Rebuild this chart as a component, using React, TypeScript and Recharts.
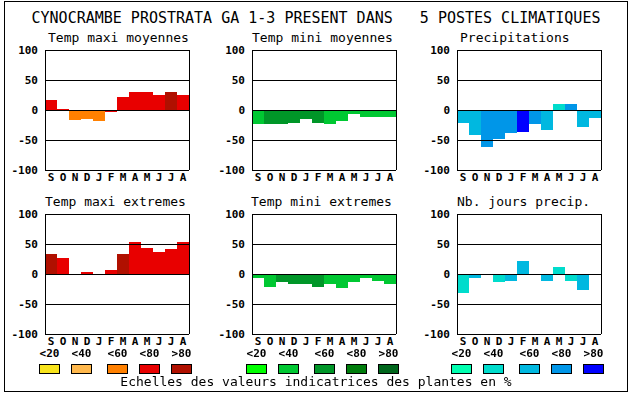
import { BarChart, Bar, Cell, XAxis, YAxis, ReferenceLine } from 'recharts';

const months = ['S', 'O', 'N', 'D', 'J', 'F', 'M', 'A', 'M', 'J', 'J', 'A'];
const yTicks = [-100, -50, 0, 50, 100];
const gridLines = [100, 50, 0, -50, -100];
const classLabels = ['<20', '<40', '<60', '<80', '>80'];

// palettes (index = class of indicator value)
const reds = ['#f8e41c', '#ffb84c', '#ff8000', '#e80000', '#b01000'];
const greens = ['#00ff00', '#00c832', '#009628', '#007d0c', '#00661c'];
const blues = ['#00ffb0', '#00dccc', '#00b8e0', '#0096e8', '#0000ff'];

const tmaxMoy = [17, 2, -17, -15, -18, -3, 22, 30, 30, 25, 30, 25];
const tmaxMoyCls = [3, 3, 2, 2, 2, 3, 3, 3, 3, 3, 4, 3];

const tminMoy = [-23, -23, -24, -21, -15, -21, -24, -18, -6, -11, -12, -12];
const tminMoyCls = [1, 2, 2, 2, 2, 2, 1, 1, 1, 1, 1, 1];

const precip = [-21, -41, -61, -48, -38, -36, -24, -34, 10, 10, -28, -13];
const precipCls = [2, 2, 3, 3, 3, 4, 3, 2, 1, 3, 2, 2];

const tmaxExt = [34, 26, 0, 4, 0, 7, 34, 54, 44, 37, 42, 54];
const tmaxExtCls = [4, 3, 3, 3, 3, 3, 4, 3, 3, 3, 3, 3];

const tminExt = [-7, -21, -14, -17, -16, -21, -16, -24, -14, -6, -12, -17];
const tminExtCls = [1, 1, 2, 2, 2, 2, 1, 1, 1, 1, 1, 1];

const nbJours = [-31, -6, 0, -14, -11, 21, -2, -11, 12, -12, -27, -2];
const nbJoursCls = [1, 2, 2, 1, 2, 2, 2, 2, 1, 1, 2, 2];

const mono = '"DejaVu Sans Mono", monospace';
const tickStyle = { fontFamily: mono, fontSize: 11, fontWeight: 'bold', fill: '#000' };

const colLeft = [45, 252, 457];
const rowTop = [50, 214];

const panels = [
  { title: 'Temp maxi moyennes', values: tmaxMoy, cls: tmaxMoyCls, palette: reds, col: 0, row: 0, dx: 3 },
  { title: 'Temp mini moyennes', values: tminMoy, cls: tminMoyCls, palette: greens, col: 1, row: 0, dx: 0 },
  { title: 'Precipitations', values: precip, cls: precipCls, palette: blues, col: 2, row: 0, dx: 3 },
  { title: 'Temp maxi extremes', values: tmaxExt, cls: tmaxExtCls, palette: reds, col: 0, row: 1, dx: 0 },
  { title: 'Temp mini extremes', values: tminExt, cls: tminExtCls, palette: greens, col: 1, row: 1, dx: -1 },
  { title: 'Nb. jours precip.', values: nbJours, cls: nbJoursCls, palette: blues, col: 2, row: 1, dx: 0 },
];

function Panel({ p }: { p: (typeof panels)[number] }) {
  const rows = months.map((m, i) => ({ m, v: p.values[i], c: p.cls[i] }));
  const left = colLeft[p.col];
  const top = rowTop[p.row];
  return (
    <>
      <div
        style={{
          position: 'absolute',
          left: left + p.dx,
          top: top - 19,
          fontFamily: mono,
          fontSize: 13,
          lineHeight: '13px',
          whiteSpace: 'pre',
        }}
      >
        {p.title}
      </div>
      <div style={{ position: 'absolute', left: left - 45, top: top - 5, shapeRendering: 'crispEdges' }}>
        <BarChart
          width={194}
          height={145}
          data={rows}
          margin={{ top: 5, right: 4, bottom: 0, left: 0 }}
          barCategoryGap={0}
        >
          <Bar dataKey="v" yAxisId="l" isAnimationActive={false}>
            {rows.map((r, i) => (
              <Cell key={i} fill={p.palette[r.c]} />
            ))}
          </Bar>
          {gridLines.map((g) => (
            <ReferenceLine key={g} yAxisId="l" y={g} stroke="#000" strokeWidth={1} />
          ))}
          <XAxis
            dataKey="m"
            interval={0}
            tickLine={false}
            tickSize={0}
            tickMargin={3}
            height={20}
            axisLine={{ stroke: '#000' }}
            tick={tickStyle}
          />
          <YAxis
            yAxisId="l"
            domain={[-100, 100]}
            ticks={yTicks}
            interval={0}
            tickLine={false}
            tickSize={0}
            tickMargin={7}
            width={45}
            axisLine={{ stroke: '#000' }}
            tick={tickStyle}
          />
          <YAxis
            yAxisId="r"
            orientation="right"
            domain={[-100, 100]}
            ticks={yTicks}
            tick={false}
            tickLine={false}
            width={1}
            axisLine={{ stroke: '#000' }}
          />
        </BarChart>
      </div>
    </>
  );
}

function Legend({ palette, x0 }: { palette: string[]; x0: number }) {
  const offsets = [0, 32, 68, 100, 132];
  return (
    <>
      {palette.map((col, i) => (
        <div key={i}>
          <div
            style={{
              position: 'absolute',
              left: x0 + offsets[i] - 5,
              width: 31,
              top: 348,
              textAlign: 'center',
              fontFamily: mono,
              fontSize: 11,
              fontWeight: 'bold',
              lineHeight: '12px',
            }}
          >
            {classLabels[i]}
          </div>
          <div
            style={{
              position: 'absolute',
              left: x0 + offsets[i],
              top: 364,
              width: 19,
              height: 8,
              background: col,
              border: '1px solid #000',
            }}
          />
        </div>
      ))}
    </>
  );
}

export default function App() {
  return (
    <div style={{ position: 'fixed', left: 0, top: 0, width: 630, height: 394, background: '#fff' }}>
      <div
        style={{
          position: 'absolute',
          left: 4,
          top: 1,
          width: 622,
          height: 389,
          border: '1px solid #000',
        }}
      />
      <div
        style={{
          position: 'absolute',
          left: 0,
          width: 632,
          top: 10,
          textAlign: 'center',
          fontFamily: mono,
          fontSize: 15,
          lineHeight: '16px',
          whiteSpace: 'pre',
        }}
      >
        {'CYNOCRAMBE PROSTRATA GA 1-3 PRESENT DANS   5 POSTES CLIMATIQUES'}
      </div>
      {panels.map((p, i) => (
        <Panel key={i} p={p} />
      ))}
      <Legend palette={reds} x0={39} />
      <Legend palette={greens} x0={246} />
      <Legend palette={blues} x0={451} />
      <div
        style={{
          position: 'absolute',
          left: 0,
          width: 632,
          top: 375,
          textAlign: 'center',
          fontFamily: mono,
          fontSize: 13,
          lineHeight: '14px',
          whiteSpace: 'pre',
        }}
      >
        Echelles des valeurs indicatrices des plantes en %
      </div>
    </div>
  );
}
